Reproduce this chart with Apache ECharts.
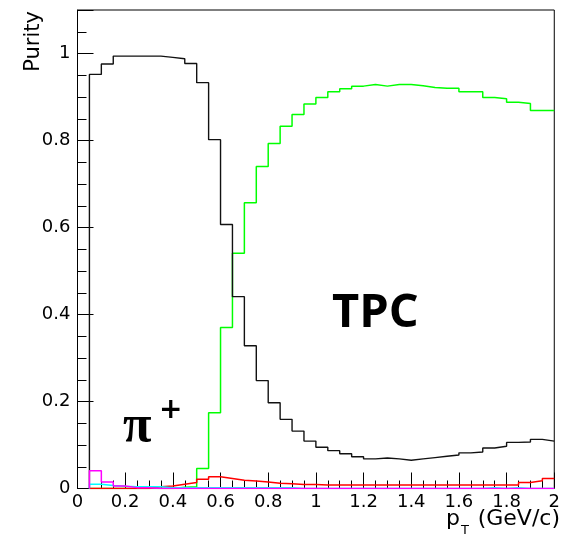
<!DOCTYPE html>
<html>
<head>
<meta charset="utf-8">
<script src="https://cdn.jsdelivr.net/npm/echarts@6/dist/echarts.min.js"></script>
<style>
html,body{margin:0;padding:0;background:#fff;}
#chart{width:563px;height:547px;}
</style>
</head>
<body>
<div id="chart"></div>
<script>
// Bin edges (GeV/c)
var binEdges = [0.05,0.10,0.15,0.20,0.25,0.30,0.35,0.40,0.45,0.50,
                0.55,0.60,0.65,0.70,0.75,0.80,0.85,0.90,0.95,1.00,
                1.05,1.10,1.15,1.20,1.25,1.30,1.35,1.40,1.45,1.50,
                1.55,1.60,1.65,1.70,1.75,1.80,1.85,1.90,1.95,2.00];

// Purity per bin (39 bins)
var blackPurity = [0.952,0.976,0.994,0.994,0.994,0.994,0.991,0.988,0.977,0.933,
                   0.802,0.607,0.441,0.328,0.248,0.197,0.159,0.132,0.109,0.095,
                   0.087,0.080,0.073,0.068,0.070,0.068,0.065,0.068,0.071,0.074,
                   0.077,0.082,0.084,0.093,0.097,0.106,0.107,0.113,0.109];
var greenPurity = [0,0,0,0,0,0,0,0.003,0.004,0.046,
                   0.174,0.370,0.541,0.657,0.740,0.793,0.833,0.860,0.884,0.899,
                   0.912,0.919,0.925,0.929,0.925,0.929,0.929,0.926,0.922,0.920,
                   0.920,0.912,0.912,0.899,0.896,0.888,0.885,0.869,0.869];
var redPurity   = [0,0,0,0,0,0.004,0.006,0.010,0.014,0.021,
                   0.027,0.023,0.019,0.017,0.015,0.012,0.011,0.009,0.009,0.008,
                   0.008,0.008,0.008,0.008,0.008,0.008,0.008,0.008,0.008,0.008,
                   0.008,0.008,0.008,0.008,0.008,0.008,0.014,0.018,0.023];
var cyanPurity  = [0.010,0.007,0.005,0.004,0.004,0.004,0.002,0.002,0.002,0.002,
                   0.002,0.002,0.002,0.002,0.002,0.002,0.002,0,0,0,
                   0,0,0,0,0,0,0,0,0,0,
                   0,0,0,0.002,0,0.002,0,0,0];
var magentaPurity = [0.041,0.015,0.006,0.002,0.002,0,0,0,0,0,
                     0,0,0,0,0,0,0,0,0,0,
                     0,0,0,0,0,0,0,0,0,0,
                     0,0,0,0,0,0,0,0,0];

var xTicks = [0,0.2,0.4,0.6,0.8,1,1.2,1.4,1.6,1.8,2];
var yTicks = [0,0.2,0.4,0.6,0.8,1];

function histPath(edges, vals) {
  var pts = [[edges[0], 0]];
  for (var i = 0; i < vals.length; i++) {
    pts.push([edges[i], vals[i]]);
    pts.push([edges[i + 1], vals[i]]);
  }
  return pts;
}

function histSeries(name, vals, color, width) {
  return {
    name: name, type: 'line', data: histPath(binEdges, vals),
    showSymbol: false, symbol: 'none', silent: true, animation: false,
    lineStyle: { color: color, width: width || 1.5 }, clip: true
  };
}

var chart = echarts.init(document.getElementById('chart'), null, { renderer: 'canvas' });
var labelFont = { fontFamily: 'DejaVu Sans', fontSize: 18, color: '#000' };

chart.setOption({
  animation: false,
  backgroundColor: '#fff',
  grid: { left: 77.5, right: 3, top: 10, bottom: 58.5, show: true, borderColor: '#000', borderWidth: 1, backgroundColor: 'transparent' },
  xAxis: [{
    type: 'value', min: xTicks[0], max: xTicks[xTicks.length - 1], interval: 0.2,
    axisLine: { show: true, onZero: false, lineStyle: { color: '#000', width: 1 } },
    axisTick: { show: true, inside: true, length: 16, lineStyle: { color: '#000' } },
    minorTick: { show: true, splitNumber: 4, length: 8, lineStyle: { color: '#000' } },
    splitLine: { show: false },
    axisLabel: Object.assign({ margin: 5, showMaxLabel: true, showMinLabel: true }, labelFont)
  }],
  yAxis: [{
    type: 'value', min: 0, max: 1.1, interval: 0.2,
    axisLine: { show: true, onZero: false, lineStyle: { color: '#000', width: 1 } },
    axisTick: { show: true, inside: true, length: 16, lineStyle: { color: '#000' } },
    splitLine: { show: false },
    axisLabel: Object.assign({ margin: 7, formatter: function (v) {
      return yTicks.indexOf(Math.round(v * 10) / 10) >= 0 && v < 1.05 ? String(Math.round(v * 10) / 10) : '';
    } }, labelFont)
  }, {
    type: 'value', min: 0, max: 1.1, interval: 0.05, position: 'left',
    axisLine: { show: false },
    axisTick: { show: true, inside: true, length: 9, lineStyle: { color: '#000' } },
    splitLine: { show: false },
    axisLabel: { show: false }
  }],
  series: [
    histSeries('green', greenPurity, '#00ff00', 1.5),
    histSeries('black', blackPurity, '#111111', 1.4),
    histSeries('red', redPurity, '#ff0000', 1.5),
    histSeries('cyan', cyanPurity, '#00ffff', 1.5),
    histSeries('magenta', magentaPurity, '#ff00ff', 1.5)
  ],
  graphic: [
    { type: 'text', x: 34, y: 11, rotation: Math.PI / 2,
      style: { text: 'Purity', align: 'right', verticalAlign: 'middle', fontFamily: 'DejaVu Sans', fontSize: 21, fill: '#000' } },
    { type: 'text', x: 446, y: 519,
      style: { text: 'p', align: 'left', verticalAlign: 'middle', fontFamily: 'DejaVu Sans', fontSize: 22, fill: '#000' } },
    { type: 'text', x: 461, y: 531,
      style: { text: 'T', align: 'left', verticalAlign: 'middle', fontFamily: 'DejaVu Sans', fontSize: 13, fill: '#000' } },
    { type: 'text', x: 560, y: 519,
      style: { text: '(GeV/c)', align: 'right', verticalAlign: 'middle', fontFamily: 'DejaVu Sans', fontSize: 22, fill: '#000' } },
    { type: 'text', x: 332, y: 314,
      style: { text: 'TPC', align: 'left', verticalAlign: 'middle', fontFamily: 'Open Sans', fontWeight: 700, fontSize: 47, fill: '#000' } },
    { type: 'text', x: 123, y: 428,
      style: { text: 'π', align: 'left', verticalAlign: 'middle', fontFamily: 'Liberation Serif', fontWeight: 700, fontSize: 52, fill: '#000' } },
    { type: 'text', x: 159, y: 411,
      style: { text: '+', align: 'left', verticalAlign: 'middle', fontFamily: 'DejaVu Sans', fontWeight: 700, fontSize: 28, fill: '#000' } }
  ]
});
</script>
</body>
</html>
